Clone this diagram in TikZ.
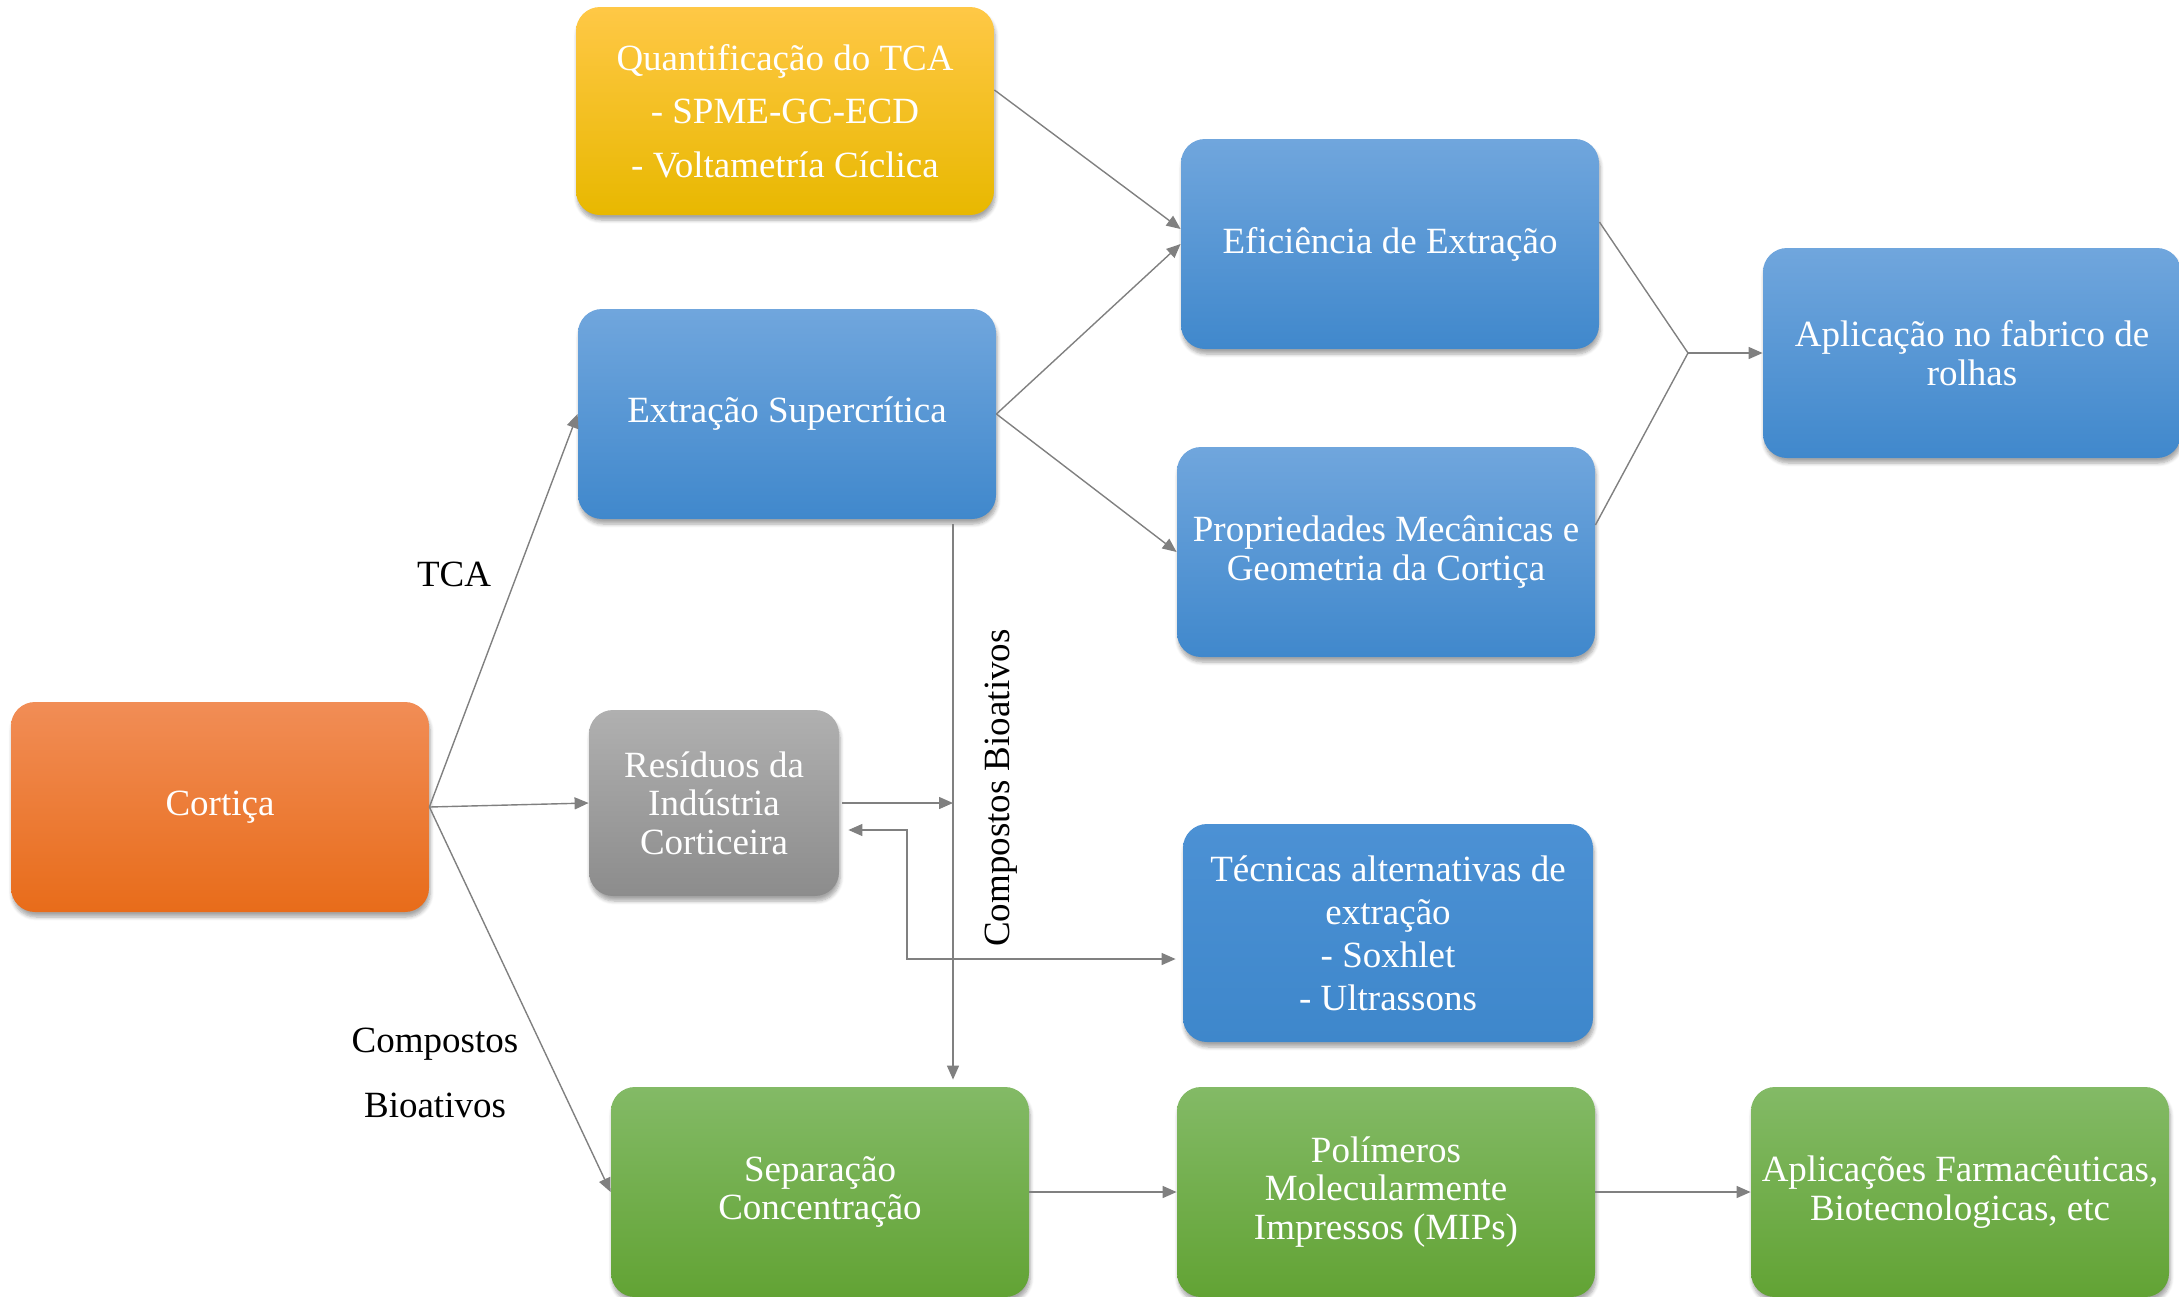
\documentclass[tikz,border=0pt]{standalone}
\usepackage{fontspec}
\setmainfont{Liberation Serif}
\usetikzlibrary{arrows.meta,shadows.blur}
\definecolor{orT}{RGB}{241,141,86}
\definecolor{orB}{RGB}{232,108,26}
\definecolor{yeT}{RGB}{255,200,70}
\definecolor{yeM}{RGB}{255,192,0}
\definecolor{yeB}{RGB}{232,184,0}
\definecolor{blT}{RGB}{112,166,221}
\definecolor{blB}{RGB}{64,136,204}
\definecolor{tbT}{RGB}{76,145,212}
\definecolor{tbB}{RGB}{62,135,203}
\definecolor{grT}{RGB}{176,176,176}
\definecolor{grB}{RGB}{140,140,140}
\definecolor{gnT}{RGB}{131,186,102}
\definecolor{gnB}{RGB}{98,163,52}
\definecolor{lineC}{RGB}{128,128,128}
\tikzset{
  box/.style={rounded corners=12pt, minimum width=209pt, minimum height=105pt,
    inner sep=2pt, align=center, text=white,
    font=\fontsize{18.5}{19.3}\selectfont,
    blur shadow={shadow xshift=0.6pt, shadow yshift=-2.5pt, shadow blur steps=6,
      shadow blur extra rounding=1pt, shadow opacity=35}},
  orangebox/.style={box, top color=orT, bottom color=orB},
  yellowbox/.style={box, top color=yeT, middle color=yeM, bottom color=yeB},
  bluebox/.style={box, top color=blT, bottom color=blB},
  darkbluebox/.style={box, top color=tbT, bottom color=tbB},
  graybox/.style={box, top color=grT, bottom color=grB},
  greenbox/.style={box, top color=gnT, bottom color=gnB},
  conn/.style={draw=lineC, line width=0.7pt},
  arr/.style={conn, -{Triangle[length=7pt,width=6pt]}},
  arrboth/.style={conn, {Triangle[length=7pt,width=6pt]}-{Triangle[length=7pt,width=6pt]}},
  lbl/.style={font=\fontsize{18.5}{32.7}\selectfont, align=center, text=black}
}
\begin{document}
\begin{tikzpicture}[x=0.5pt,y=-0.5pt]
\useasboundingbox (0,0) rectangle (2179,1296);

% boxes
\node[orangebox] (cort) at (220,807) {Cortiça};
\node[yellowbox, minimum height=104pt, font=\fontsize{18.5}{26.7}\selectfont] (quant) at (785,111)
  {Quantificação do TCA\\- SPME-GC-ECD\\- Voltametría Cíclica};
\node[bluebox] (extr) at (787,414) {Extração Supercrítica};
\node[bluebox] (efic) at (1390,244) {Eficiência de Extração};
\node[bluebox] (prop) at (1386,552) {Propriedades Mecânicas e\\Geometria da Cortiça};
\node[bluebox] (apl) at (1972,353) {Aplicação no fabrico de\\rolhas};
\node[graybox, minimum width=125pt, minimum height=93pt] (resid) at (714,803)
  {Resíduos da\\Indústria\\Corticeira};
\node[darkbluebox, minimum width=205pt, minimum height=109pt, font=\fontsize{18.5}{21.5}\selectfont] (tecn) at (1388,933)
  {Técnicas alternativas de\\extração\\- Soxhlet\\- Ultrassons};
\node[greenbox] (sep) at (820,1192) {Separação\\Concentração};
\node[greenbox] (poly) at (1386,1192) {Polímeros\\Molecularmente\\Impressos (MIPs)};
\node[greenbox] (farm) at (1960,1192) {Aplicações Farmacêuticas,\\Biotecnologicas, etc};

% helper coordinates
\coordinate (join) at (1688,353);
\coordinate (vline) at (953,805);
\coordinate (bend) at (907,959);

% connectors from Cortiça
\draw[arr] (cort.east) -- (extr.west);
\draw[arr] (cort.east) -- (resid.west);
\draw[arr] (cort.east) -- (sep.west);

% upper branch
\draw[arr] ([yshift=10.5pt]quant.east) -- ([yshift=7.5pt]efic.west);
\draw[arr] (extr.east) -- (efic.west);
\draw[arr] (extr.east) -- (prop.west);
\draw[conn] ([yshift=11pt]efic.east) -- (join);
\draw[conn] ([yshift=13.5pt]prop.east) -- (join);
\draw[arr] (join) -- (apl.west);

% vertical line to separação
\draw[arr] ([xshift=83pt,yshift=-2.5pt]extr.south) -- ([xshift=66.5pt,yshift=3.5pt]sep.north);
\draw[arr] ([xshift=1.5pt]resid.east) -- (resid.east -| vline);
\draw[arrboth] ([xshift=4.5pt,yshift=-13.5pt]resid.east) -| (bend) -- ([xshift=-3.5pt,yshift=-13pt]tecn.west);

% lower chain
\draw[arr] (sep.east) -- (poly.west);
\draw[arr] (poly.east) -- (farm.west);

% labels
\node[lbl] (ltca) at (454,574) {TCA};
\node[lbl] (lcomp) at (435,1073) {Compostos\\Bioativos};
\node[lbl, rotate=90] (lvert) at (1001,788) {Compostos Bioativos};
\end{tikzpicture}
\end{document}
